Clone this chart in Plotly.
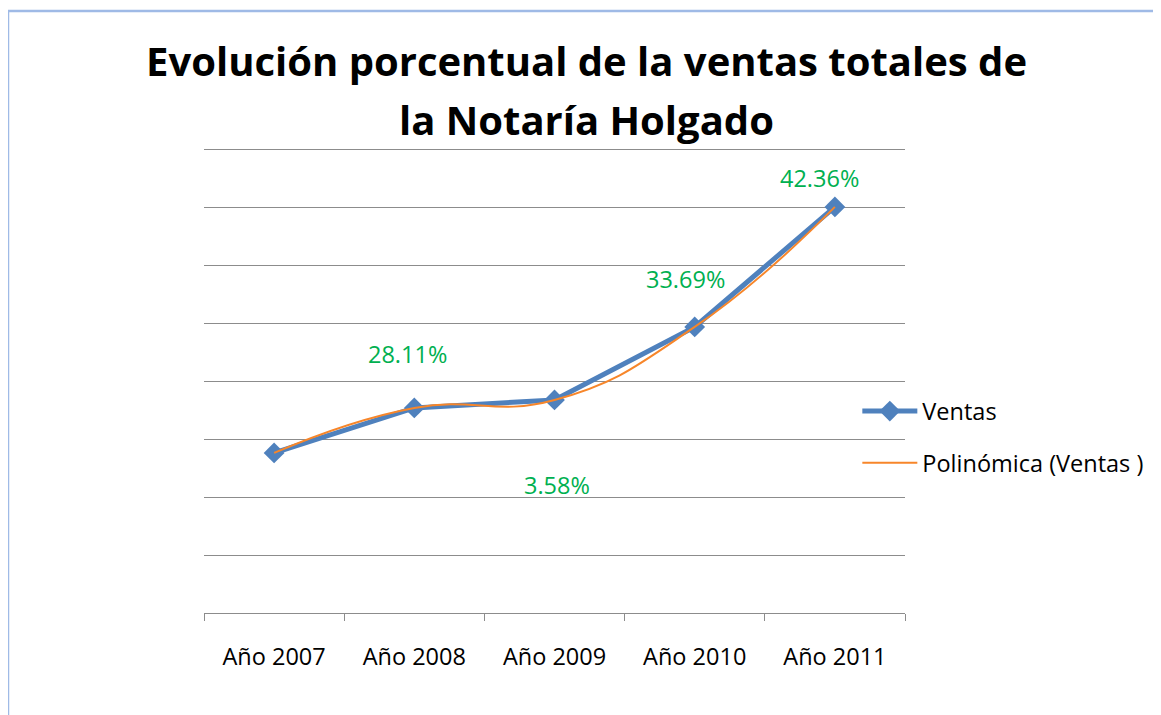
import plotly.graph_objects as go

categories = ["Año 2007", "Año 2008", "Año 2009", "Año 2010", "Año 2011"]
ventas = [2.765, 3.542, 3.680, 4.942, 7.015]
growth_labels = ["", "28.11%", "3.58%", "33.69%", "42.36%"]

BLUE = "#4F81BD"
ORANGE = "#F7862A"
GREEN = "#00B050"
GRID = "#8C8C8C"
FONT = "Open Sans"
TXT = 23.5

fig = go.Figure()
fig.add_trace(go.Scatter(
    x=categories, y=ventas, mode="lines+markers", name="Ventas",
    line=dict(color=BLUE, width=5),
    marker=dict(symbol="diamond", size=16, color=BLUE),
    legendgroup="a",
))
fig.add_trace(go.Scatter(
    x=categories, y=ventas, mode="lines", name="Polinómica (Ventas )",
    line=dict(color=ORANGE, width=2, shape="spline", smoothing=1.3),
    legendgroup="b",
))

# data labels
shifts = [None, (-7, 54), (2, -85), (-9, 48), (-15, 29)]
for cat, val, lab, sh in zip(categories, ventas, growth_labels, shifts):
    if not lab:
        continue
    fig.add_annotation(x=cat, y=val, text=lab, showarrow=False,
                       xshift=sh[0], yshift=sh[1],
                       font=dict(family=FONT, size=TXT, color=GREEN))

# title lines
fig.add_annotation(xref="paper", yref="paper", x=0.546, y=1.186,
                   text="<b>Evolución porcentual de la ventas totales de</b>",
                   showarrow=False, xanchor="center", yanchor="middle",
                   font=dict(family=FONT, size=40, color="black"))
fig.add_annotation(xref="paper", yref="paper", x=0.546, y=1.058,
                   text="<b>la Notaría Holgado</b>",
                   showarrow=False, xanchor="center", yanchor="middle",
                   font=dict(family=FONT, size=40, color="black"))

# chart border
fig.add_shape(type="rect", xref="paper", yref="paper",
              x0=-0.2796, y0=-1, x1=2, y1=1.292,
              line=dict(color="#9FBAE6", width=2.5), layer="below")

# page has an 8px body margin, so the figure is drawn 8px smaller/shifted
fig.update_layout(
    width=1153, height=707,
    margin=dict(l=196, r=256, t=139, b=102),
    paper_bgcolor="white", plot_bgcolor="white",
    showlegend=True,
    legend=dict(x=0.932, y=0.377, xanchor="left", yanchor="middle",
                font=dict(family=FONT, size=TXT, color="black"),
                tracegroupgap=18, itemwidth=55, bgcolor="rgba(0,0,0,0)"),
    font=dict(family=FONT),
)
fig.update_xaxes(
    range=[-0.5, 4.5], showgrid=False, showline=True, linecolor=GRID,
    linewidth=1, ticks="outside", tickson="boundaries", ticklen=7,
    tickcolor=GRID, tickfont=dict(family=FONT, size=TXT, color="black"),
    ticklabelstandoff=23,
)
fig.update_yaxes(
    range=[0, 8.05], dtick=1, showgrid=True, gridcolor=GRID, gridwidth=1,
    showticklabels=False, zeroline=False, showline=False, ticks="",
)

fig.write_html("out.html")
